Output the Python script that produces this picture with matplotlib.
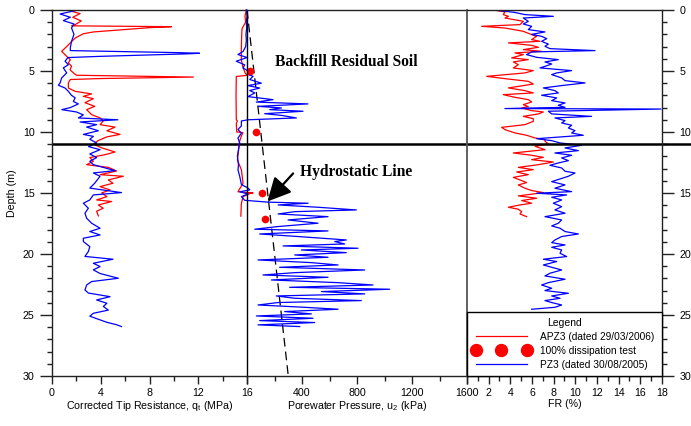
import matplotlib
matplotlib.use("Agg")
import matplotlib.pyplot as plt
from matplotlib.lines import Line2D
from matplotlib.ticker import MultipleLocator

plt.rcParams['font.family'] = ['Liberation Sans', 'DejaVu Sans']
plt.rcParams['font.size'] = 7.7

# --- corrected tip resistance q_t (MPa) ---
qt_pz3_depth = [0.0, 0.03, 0.33, 0.6, 0.87, 1.15, 1.47, 2.0, 2.57, 3.1,
                3.33, 3.5, 3.55, 3.6, 3.8, 3.9, 4.2, 4.48, 4.75, 5.16,
                5.57, 5.98, 6.17, 6.4, 6.67, 7.0, 7.2, 7.5, 7.7, 8.0,
                8.17, 8.36, 8.6, 8.85, 9.0, 9.18, 9.4, 9.6, 9.9, 10.2,
                10.36, 10.6, 10.9, 11.2, 11.45, 11.8, 12.1, 12.4, 12.68, 13.17,
                13.36, 13.63, 14.2, 14.6, 14.97, 15.16, 15.57, 15.84, 16.25, 16.66,
                17.07, 17.48, 17.89, 18.16, 18.44, 18.71, 18.98, 19.4, 19.8, 20.2,
                20.43, 20.76, 21.03, 21.3, 21.6, 21.99, 22.26, 22.54, 22.95, 23.2,
                23.5, 23.77, 24.04, 24.3, 24.6, 24.86, 25.1, 25.4, 25.6, 25.8,
                25.95]
qt_pz3 = [0.25, 2.0, 0.66, 1.5, 0.93, 1.8, 1.6, 1.8, 1.6, 1.5,
          1.5, 10.5, 12.1, 11.0, 4.0, 1.3, 1.07, 1.34, 0.93, 1.2,
          0.79, 0.66, 0.52, 1.07, 1.34, 1.6, 1.9, 1.75, 2.16, 1.5,
          0.8, 2.0, 2.57, 2.16, 5.4, 2.3, 3.66, 2.84, 3.8, 2.57,
          3.39, 3.1, 3.66, 3.0, 3.94, 3.1, 3.66, 3.1, 3.39, 5.17,
          3.39, 3.94, 3.5, 3.1, 5.7, 3.39, 3.1, 2.57, 2.98, 2.7,
          2.84, 3.25, 3.94, 3.1, 3.94, 2.57, 2.57, 3.1, 2.98, 2.7,
          5.0, 3.39, 3.94, 3.39, 3.94, 5.44, 3.25, 2.84, 2.7, 2.98,
          4.76, 3.66, 4.5, 4.21, 4.62, 3.39, 3.1, 3.94, 4.5, 5.3,
          5.7]

qt_apz3_depth = [0.0, 0.3, 0.6, 0.9, 1.2, 1.3, 1.37, 1.45, 1.8, 1.95,
                 2.3, 2.6, 3.0, 3.39, 3.8, 4.07, 4.35, 4.6, 4.9, 5.16,
                 5.35, 5.5, 5.62, 5.7, 5.98, 6.4, 6.67, 6.88, 7.08, 7.27,
                 7.6, 7.9, 8.17, 8.58, 8.85, 9.1, 9.4, 9.6, 9.9, 10.2,
                 10.4, 10.7, 11.0, 11.3, 11.64, 11.86, 12.1, 12.4, 12.68, 12.9,
                 13.2, 13.5, 13.63, 13.93, 14.2, 14.48, 14.75, 15.0, 15.3, 15.57,
                 15.7, 15.98, 16.25, 16.5, 16.88]
qt_apz3 = [1.2, 2.3, 1.7, 2.4, 1.9, 1.6, 9.8, 8.0, 3.4, 2.57,
           1.9, 1.6, 1.2, 0.79, 1.2, 1.5, 1.34, 1.6, 1.48, 1.75,
           2.0, 11.6, 4.0, 1.5, 1.34, 1.34, 1.9, 3.25, 2.57, 3.39,
           2.7, 3.5, 2.84, 3.25, 3.94, 4.2, 3.94, 5.17, 4.5, 5.58,
           4.5, 3.8, 3.39, 4.07, 5.17, 4.35, 3.1, 3.39, 2.84, 4.62,
           5.3, 3.94, 5.85, 4.62, 5.0, 3.94, 4.76, 4.07, 4.5, 3.66,
           4.9, 3.8, 4.2, 3.66, 3.8]

# --- porewater pressure u2 (kPa) ---
u_pz3_depth = [0.0, 0.5, 1.0, 1.5, 2.0, 2.5, 3.0, 3.4, 3.65, 3.9,
               4.2, 4.5, 4.75, 5.0, 5.3, 5.44, 5.7, 6.0, 6.2, 6.4,
               6.6, 6.8, 7.1, 7.35, 7.55, 7.7, 7.9, 8.03, 8.17, 8.3,
               8.5, 8.64, 8.85, 9.0, 9.1, 9.5, 9.8, 10.1, 10.5, 10.9,
               11.3, 12.0, 12.7, 13.1, 13.65, 14.3, 14.6, 14.75, 14.9, 15.08,
               15.3, 15.6, 15.75,
               15.84, 15.98, 16.17, 16.39, 16.53, 16.72, 16.94, 17.21, 17.48, 17.75,
               17.97, 18.11, 18.36, 18.57, 18.85, 18.98, 19.18, 19.34, 19.53, 19.67,
               19.89, 20.08, 20.27, 20.49, 20.71, 20.9, 21.09, 21.31, 21.53, 21.72,
               21.91, 22.13, 22.35, 22.54, 22.73, 22.89, 23.08, 23.27, 23.44, 23.63,
               23.82, 23.98, 24.18, 24.37, 24.53, 24.72, 24.91, 25.08, 25.27, 25.46,
               25.62, 25.81, 25.95]
u_pz3 = [-5, 0, -5, -3, -8, -5, -10, -29, -66, 0,
         -78, -17, -29, 7, 10, 44, 20, 104, 7, 92,
         20, 56, 7, 189, 68, 443, 80, 250, 165, 407,
         128, 250, 359, 7, -41, -41, -66, -41, -66, -53,
         -60, -70, -62, -66, -53, -41, 7, 20, -53, 7,
         -41, -17, 152,
         444, 226, 516, 795, 347, 226, 589, 298, 516, 226,
         56, 589, 92, 371, 722, 638, 710, 262, 807, 395,
         722, 347, 589, 80, 468, 662, 237, 856, 347, 116,
         589, 177, 662, 916, 310, 1037, 541, 856, 213, 347,
         831, 226, 80, 419, 662, 274, 468, 68, 480, 92,
         492, 80, 383]

u_apz3_depth = [0.0, 0.5, 1.0, 1.5, 1.8, 2.5, 3.5, 4.1, 4.7, 5.2,
                5.35, 5.45, 7.0, 9.0, 9.1, 9.3, 10.0, 10.05, 10.3, 10.8,
                11.5, 12.3, 13.1, 14.2, 14.9, 15.0, 15.05, 15.3, 15.85, 16.9]
u_apz3 = [-5, -15, -10, -35, -38, -40, -42, -41, -30, -12,
          5, -78, -80, -78, -70, -78, -75, -30, -40, -55,
          -62, -70, -41, -29, -66, 44, 20, -29, -41, -45]

# dissipation tests and hydrostatic line
dissip_depth = [5.0, 10.0, 15.0, 17.1]
dissip_u = [20, 67, 112, 128]
hydro_depth = [0, 30]
hydro_u = [0, 300]

# --- friction ratio FR (%) ---
fr_pz3_depth = [0.0, 0.03, 0.2, 0.38, 0.52, 0.66, 0.93, 1.15, 1.34, 1.61,
                1.8, 2.0, 2.16, 2.35, 2.57, 2.8, 2.98, 3.17, 3.33, 3.44,
                3.66, 3.88, 4.07, 4.26, 4.43, 4.62, 4.75, 4.97, 5.16, 5.3,
                5.57, 5.79, 5.98, 6.18, 6.39, 6.61, 6.8, 6.99, 7.21, 7.43,
                7.62, 7.81, 7.98, 8.08, 8.12, 8.3, 8.52, 8.72, 8.85, 9.07,
                9.26, 9.45, 9.67, 9.89, 10.08, 10.27, 10.44, 10.55, 10.71, 10.9,
                11.09, 11.31, 11.53, 11.72, 11.91, 12.13, 12.35, 12.54, 12.73, 12.95,
                13.22, 13.36, 13.63, 14.07, 14.34, 14.61, 14.89, 15.02, 15.16, 15.35,
                15.57, 15.84, 16.12, 16.39, 16.66, 16.94, 17.21, 17.48, 17.7, 17.89,
                18.16, 18.36, 18.57, 18.85, 19.07, 19.26, 19.45, 19.67, 19.94, 20.21,
                20.43, 20.62, 20.9, 21.09, 21.31, 21.58, 21.8, 22.07, 22.35, 22.54,
                22.81, 23.0, 23.22, 23.44, 23.63, 23.82, 23.98, 24.18, 24.37, 24.53]
fr_pz3 = [10.6, 2.8, 4.4, 5.35, 7.97, 5.2, 5.66, 5.2, 5.97, 5.66,
          7.2, 5.97, 6.89, 7.36, 6.89, 7.51, 7.2, 7.66, 11.82, 5.97,
          5.5, 6.43, 8.43, 7.2, 7.82, 7.2, 6.74, 9.66, 8.28, 7.82,
          8.74, 9.05, 10.9, 8.9, 7.05, 8.12, 8.43, 6.89, 8.28, 7.82,
          9.05, 8.43, 9.05, 3.5, 17.9, 7.51, 7.82, 11.5, 8.12, 9.05,
          8.74, 9.66, 9.36, 9.97, 9.66, 10.74, 8.12, 6.43, 7.82, 8.59,
          10.59, 9.05, 10.28, 8.12, 9.66, 8.74, 9.36, 8.43, 7.66, 8.74,
          9.05, 9.97, 9.36, 7.82, 9.05, 8.12, 9.66, 6.43, 9.2, 7.82,
          8.74, 7.97, 8.74, 8.12, 9.05, 7.2, 8.74, 8.43, 7.82, 8.59,
          9.05, 10.28, 8.74, 8.12, 7.82, 9.05, 7.82, 8.74, 8.59, 9.2,
          7.05, 8.28, 7.05, 7.82, 8.74, 7.66, 7.2, 9.05, 7.51, 6.89,
          7.82, 7.2, 9.36, 7.82, 8.59, 7.2, 7.82, 8.74, 8.12, 5.97]

fr_apz3_depth = [0.0, 0.16, 0.38, 0.52, 0.66, 0.93, 1.2, 1.34, 1.48, 1.75,
                 2.02, 2.16, 2.43, 2.57, 2.7, 2.9, 3.06, 3.25, 3.39, 3.52,
                 3.66, 3.93, 4.07, 4.26, 4.48, 4.75, 4.97, 5.16, 5.44, 5.63,
                 5.85, 6.07, 6.39, 6.61, 6.8, 6.94, 7.16, 7.35, 7.54, 7.76,
                 7.92, 8.03, 8.25, 8.36, 8.52, 8.72, 8.91, 9.13, 9.4, 9.62,
                 9.81, 10.08, 10.27, 10.49, 10.63, 10.76, 10.98, 11.17, 11.45, 11.72,
                 11.91, 12.08, 12.27, 12.46, 12.68, 12.9, 13.09, 13.28, 13.5, 13.72,
                 13.93, 14.15, 14.34, 14.61, 14.8, 14.97, 15.08, 15.24, 15.43, 15.62,
                 15.84, 15.98, 16.17, 16.33, 16.53, 16.72, 16.94]
fr_apz3 = [2.43, 3.51, 3.35, 3.82, 3.51, 5.2, 4.89, 1.35, 3.51, 5.2,
           5.97, 6.43, 5.97, 6.74, 3.82, 5.97, 6.59, 5.2, 6.89, 4.43,
           5.2, 4.12, 5.66, 4.28, 4.74, 4.28, 6.12, 5.35, 1.82, 3.51,
           5.66, 6.12, 3.82, 5.35, 6.12, 3.35, 4.43, 5.66, 5.97, 5.2,
           5.66, 5.05, 5.97, 7.05, 6.59, 5.2, 6.12, 6.12, 5.35, 3.2,
           3.51, 4.43, 5.5, 6.28, 7.2, 7.2, 7.51, 6.28, 7.2, 4.28,
           5.97, 7.05, 5.97, 7.97, 6.59, 4.74, 6.12, 4.59, 5.66, 4.28,
           4.89, 5.5, 4.74, 5.35, 5.97, 7.05, 6.12, 4.74, 6.43, 5.05,
           5.97, 4.89, 3.82, 4.74, 5.05, 4.89, 5.5]

RED = '#ff0000'
BLUE = '#0000ff'
FRAME = '#222222'

fig = plt.figure(figsize=(6.91, 4.26), dpi=100)
bottom, height = 0.1174, 0.8592
ax_q = fig.add_axes([0.0753, bottom, 0.2822, height])
ax_u = fig.add_axes([0.3575, bottom, 0.3184, height], sharey=ax_q)
ax_f = fig.add_axes([0.6758, bottom, 0.2822, height], sharey=ax_q)

ax_q.plot(qt_apz3, qt_apz3_depth, color=RED, lw=0.9)
ax_q.plot(qt_pz3, qt_pz3_depth, color=BLUE, lw=0.9)

ax_u.plot(hydro_u, hydro_depth, color='black', lw=0.9, dashes=(7, 4))
ax_u.plot(u_apz3, u_apz3_depth, color=RED, lw=0.9, clip_on=False)
ax_u.plot(u_pz3, u_pz3_depth, color=BLUE, lw=0.9, clip_on=False)
ax_u.plot(dissip_u, dissip_depth, 'o', color=RED, ms=4.5, clip_on=False)

ax_f.plot(fr_apz3, fr_apz3_depth, color=RED, lw=0.9)
ax_f.plot(fr_pz3, fr_pz3_depth, color=BLUE, lw=0.9)

ax_q.set_ylim(30, 0)
ax_q.set_xlim(0, 16)
ax_u.set_xlim(0, 1600)
ax_f.set_xlim(0, 18)

# boundary between fill and residual soil
ax_q.axhline(11, color='black', lw=1.8)
ax_u.axhline(11, color='black', lw=1.8)
ax_f.plot([0, 20.8], [11, 11], color='black', lw=1.8, clip_on=False)

for ax in (ax_q, ax_u, ax_f):
    for s in ax.spines.values():
        s.set_color(FRAME)
        s.set_linewidth(1)
    ax.tick_params(axis='x', which='major', direction='out', length=5.5,
                   width=1, color=FRAME, pad=3)
    ax.tick_params(axis='x', which='minor', direction='out', length=3.5,
                   width=1, color=FRAME)
# panel dividers: black after q_t, grey after u2
ax_q.spines['right'].set_visible(False)
ax_u.spines['left'].set_color('black')
ax_u.spines['right'].set_visible(False)
ax_f.spines['left'].set_color('#555555')
ax_f.spines['left'].set_linewidth(1.3)

ax_q.xaxis.set_major_locator(MultipleLocator(4))
ax_q.xaxis.set_minor_locator(MultipleLocator(2))
ax_u.set_xticks([0, 400, 800, 1200, 1600])
ax_u.set_xticklabels(['', '400', '800', '1200', '1600'])
ax_u.xaxis.set_minor_locator(MultipleLocator(200))
ax_f.set_xticks(range(0, 19, 2))
ax_f.set_xticklabels([''] + [str(v) for v in range(2, 19, 2)])
ax_f.xaxis.set_minor_locator(MultipleLocator(1))

ax_q.yaxis.set_major_locator(MultipleLocator(5))
ax_q.yaxis.set_minor_locator(MultipleLocator(1))
ax_q.tick_params(axis='y', which='major', direction='out', length=8.6,
                 width=1, color=FRAME, pad=4)
ax_q.tick_params(axis='y', which='minor', direction='out', length=3.6,
                 width=1, color=FRAME)
ax_u.tick_params(axis='y', which='both', left=False, labelleft=False)
ax_f.tick_params(axis='y', which='both', left=False, labelleft=False,
                 right=True, labelright=True, direction='out', color=FRAME)
ax_f.tick_params(axis='y', which='major', length=8.6, width=1, pad=4)
ax_f.tick_params(axis='y', which='minor', length=3.6, width=1)

ax_q.set_ylabel('Depth (m)', labelpad=4)
ax_q.set_xlabel('Corrected Tip Resistance, q$_\\mathregular{t}$ (MPa)', labelpad=1)
ax_u.set_xlabel('Porewater Pressure, u$_\\mathregular{2}$ (kPa)', labelpad=1)
ax_f.set_xlabel('FR (%)', labelpad=1)

ax_u.text(204, 4.3, 'Backfill Residual Soil', family='Liberation Serif',
          fontweight='bold', fontsize=11.2, va='center')
ax_u.text(385, 13.3, 'Hydrostatic Line', family='Liberation Serif',
          fontweight='bold', fontsize=11.2, va='center')
ax_u.annotate('', xy=(148, 15.7), xytext=(335, 13.4),
              arrowprops=dict(arrowstyle='-|>,head_length=1.1,head_width=0.55',
                              color='black', lw=1.6, mutation_scale=13,
                              shrinkA=0, shrinkB=0))

handles = [Line2D([], [], color=RED, lw=0.9),
           Line2D([], [], color=RED, marker='o', ls='none', ms=8.6),
           Line2D([], [], color=BLUE, lw=0.9)]
labels = ['APZ3 (dated 29/03/2006)', '100% dissipation test',
          'PZ3 (dated 30/08/2005)']
leg = ax_f.legend(handles, labels, title='Legend', loc='lower left',
                  bbox_to_anchor=(0, 0, 1, 1), mode='expand', numpoints=3,
                  handlelength=5.6, handletextpad=1.0, borderaxespad=0,
                  fancybox=False, edgecolor='black', framealpha=1,
                  fontsize=7.3, title_fontsize=7.5, labelspacing=0.4,
                  borderpad=0.6)
leg.get_frame().set_linewidth(1)

fig.savefig('out.png', dpi=100)
